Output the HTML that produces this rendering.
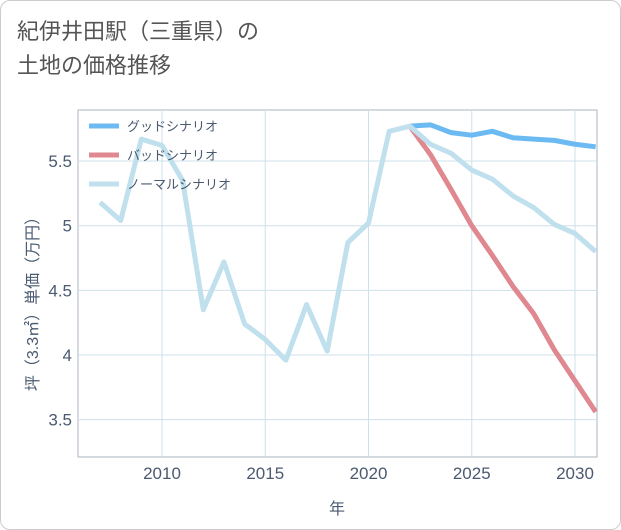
<!DOCTYPE html>
<html><head><meta charset="utf-8"><style>
body{margin:0;background:#fff;}
#wrap{position:relative;width:619px;height:528px;border:1px solid #ccc;border-radius:10px;overflow:hidden;font-family:"Liberation Sans","Noto Sans CJK JP",sans-serif;}
#title{position:absolute;left:16px;top:14px;font-size:22px;line-height:34px;color:#555;}
</style></head><body>
<div id="wrap">
<div id="title">紀伊井田駅（三重県）の<br>土地の価格推移</div>
<svg id="svg" width="621" height="530" style="position:absolute;left:-1px;top:-1px"></svg>
</div>
<script>
const years=[2007,2008,2009,2010,2011,2012,2013,2014,2015,2016,2017,2018,2019,2020,2021,2022,2023,2024,2025,2026,2027,2028,2029,2030,2031];
const normalVals=[5.18,5.04,5.67,5.62,5.35,4.35,4.72,4.24,4.12,3.96,4.39,4.03,4.87,5.02,5.73,5.77,5.63,5.56,5.43,5.36,5.23,5.14,5.01,4.94,4.8];
const scenarioYears=[2022,2023,2024,2025,2026,2027,2028,2029,2030,2031];
const goodVals=[5.77,5.78,5.72,5.70,5.73,5.68,5.67,5.66,5.63,5.61];
const badVals=[5.77,5.55,5.28,5.0,5.76-0.99,4.53,4.32,4.04,3.80,3.56];
const xTicks=[2010,2015,2020,2025,2030];
const yTicks=[3.5,4,4.5,5,5.5];
const L=78,R=597,T=110,B=457;
const x=v=>162+(v-2010)*20.65;
const y=v=>355-(v-4)*129.3;
const svg=document.getElementById('svg');
const NS='http://www.w3.org/2000/svg';
function mk(t,a){const e=document.createElementNS(NS,t);for(const k in a)e.setAttribute(k,a[k]);svg.appendChild(e);return e;}
let e;
e=mk('rect',{x:L,y:T,width:R-L,height:B-T,fill:'#fff',stroke:'#aab4c0'});


yTicks.forEach(v=>{
 e=mk('line',{x1:L,x2:R,y1:y(v),y2:y(v),stroke:'#cfe0ea'});
 
 
 e=mk('text',{x:L-6,y:y(v)+6,'text-anchor':'end','font-size':17,fill:'#4a5a70'});e.textContent=v;
 
 
});
xTicks.forEach(v=>{
 e=mk('line',{x1:x(v),x2:x(v),y1:T,y2:B,stroke:'#cfe0ea'});
 
 
 e=mk('text',{x:x(v),y:B+22,'text-anchor':'middle','font-size':17,fill:'#4a5a70'});e.textContent=v;
 
 
});
e=mk('text',{x:337,y:514,'text-anchor':'middle','font-size':16,fill:'#4a5a70'});e.textContent='年';


e=mk('text',{x:0,y:0,'text-anchor':'middle','font-size':16,fill:'#4a5a70',transform:'translate(38,300) rotate(-90)'});e.textContent='坪（3.3㎡）単価（万円）';


const g=mk('g',{'clip-path':'url(#c)'});
const cp=mk('clipPath',{id:'c'});const cr=document.createElementNS(NS,'rect');
cr.setAttribute('x',L);cr.setAttribute('y',T);cr.setAttribute('width',R-L);cr.setAttribute('height',B-T);cp.appendChild(cr);
function line(xs,vs,col,name){const p=document.createElementNS(NS,'polyline');
 p.setAttribute('points',xs.map((v,i)=>x(v)+','+y(vs[i])).join(' '));
 p.setAttribute('fill','none');p.setAttribute('stroke',col);p.setAttribute('stroke-width',5);p.setAttribute('stroke-linejoin','round');
 
 
 g.appendChild(p);}
line(scenarioYears,goodVals,'#6cbaf2','good-scenario-line');
line(scenarioYears,badVals,'#df8890','bad-scenario-line');
line(years,normalVals,'#bfe0ec','normal-scenario-line');
const leg=[['グッドシナリオ','#6cbaf2'],['バッドシナリオ','#df8890'],['ノーマルシナリオ','#bfe0ec']];
leg.forEach((l,i)=>{const yy=126+i*29;
 e=mk('line',{x1:89,x2:119,y1:yy,y2:yy,stroke:l[1],'stroke-width':5});
 
 
 e=mk('text',{x:127,y:yy+5,'font-size':13,fill:'#4a5a70'});e.textContent=l[0];
 
 
});
</script>
</body></html>
